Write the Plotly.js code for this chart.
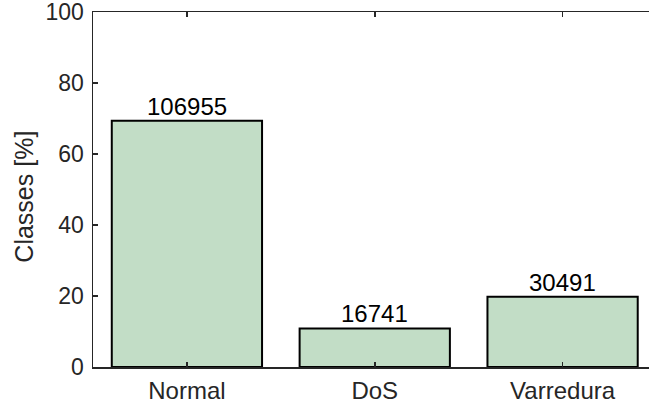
<!DOCTYPE html>
<html>
<head>
<meta charset="utf-8">
<script src="https://cdn.plot.ly/plotly-3.0.1.min.js"></script>
<style>html,body{margin:0;padding:0;background:#fff;}#chart{width:649px;height:408px;}</style>
</head>
<body>
<div id="chart"></div>
<script>
const categories = ["Normal", "DoS", "Varredura"];
const percentages = [69.37, 10.86, 19.78];
const counts = [106955, 16741, 30491];
const yTicks = [0, 20, 40, 60, 80, 100];
const yTitle = "Classes [%]";

const FONT = '"Liberation Sans", Arial, Helvetica, sans-serif';
const AX = '#262626';

const trace = {
  type: 'bar',
  x: categories,
  y: percentages,
  marker: {color: '#c2ddc6', line: {color: '#000', width: 2}},
  width: 0.8,
  hoverinfo: 'none'
};

const annotations = categories.map((c, i) => ({
  x: c, y: percentages[i], xref: 'x', yref: 'y',
  text: String(counts[i]),
  showarrow: false, xanchor: 'center', yanchor: 'bottom',
  yshift: -1,
  font: {family: FONT, size: 24, color: '#000'}
}));
annotations.push({
  xref: 'paper', yref: 'paper', x: -0.124, y: 0.48,
  xanchor: 'center', yanchor: 'middle', textangle: -90,
  text: yTitle, showarrow: false,
  font: {family: FONT, size: 25, color: AX}
});

const layout = {
  width: 649, height: 408,
  margin: {l: 93, r: 0, t: 12, b: 41, pad: 0},
  paper_bgcolor: '#fff', plot_bgcolor: '#fff',
  showlegend: false,
  font: {family: FONT, size: 24, color: AX},
  annotations: annotations,
  xaxis: {
    type: 'category',
    range: [-0.5, 2.46],
    showline: true, linecolor: AX, linewidth: 1.5,
    mirror: 'ticks', ticks: 'inside', ticklen: 5, tickwidth: 1.5, tickcolor: AX,
    showgrid: false, zeroline: false,
    ticklabelstandoff: 2,
    tickfont: {family: FONT, size: 24, color: AX}
  },
  yaxis: {
    range: [0, 100],
    tickvals: yTicks, ticktext: yTicks.map(String),
    showline: true, linecolor: AX, linewidth: 1.5,
    mirror: false, ticks: 'inside', ticklen: 5, tickwidth: 1.5, tickcolor: AX,
    showgrid: false, zeroline: false,
    ticklabeloverflow: 'allow',
    ticklabelstandoff: 3,
    tickfont: {family: FONT, size: 23, color: AX}
  }
};

Plotly.newPlot('chart', [trace], layout, {displayModeBar: false, staticPlot: true});
</script>
</body>
</html>
